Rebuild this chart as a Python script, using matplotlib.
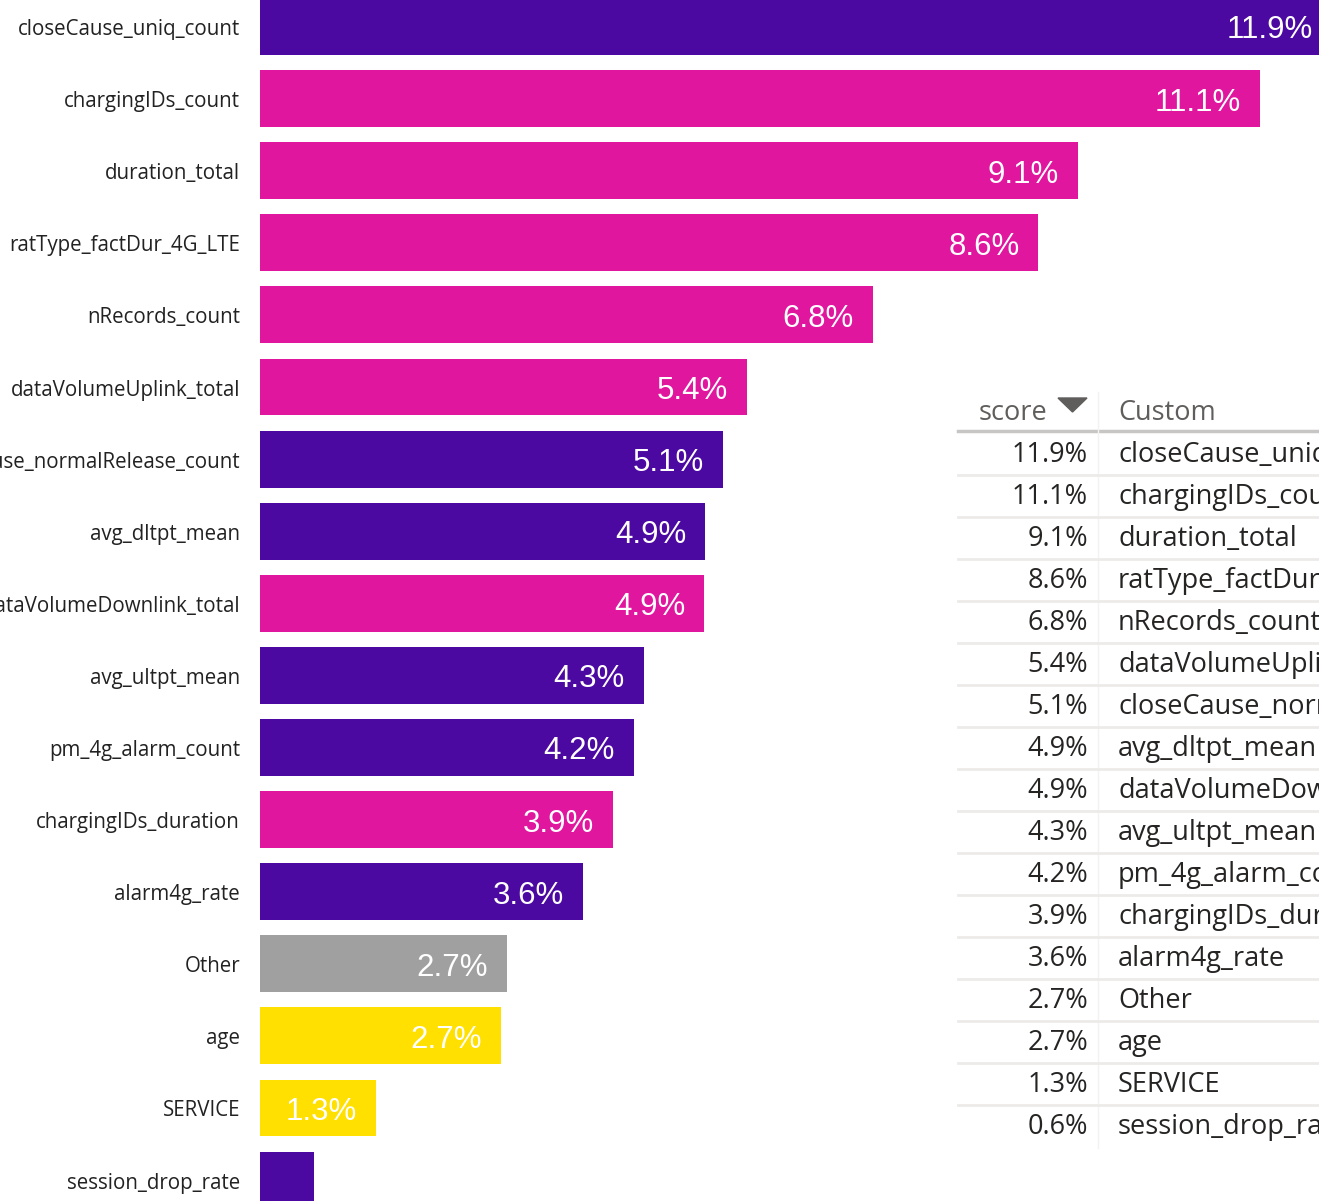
import matplotlib
matplotlib.use("Agg")
import matplotlib.pyplot as plt
from matplotlib.patches import Polygon

# data
features = ['closeCause_uniq_count', 'chargingIDs_count', 'duration_total',
            'ratType_factDur_4G_LTE', 'nRecords_count', 'dataVolumeUplink_total',
            'closeCause_normalRelease_count', 'avg_dltpt_mean',
            'dataVolumeDownlink_total', 'avg_ultpt_mean', 'pm_4g_alarm_count',
            'chargingIDs_duration', 'alarm4g_rate', 'Other', 'age', 'SERVICE',
            'session_drop_rate']
scores = [11.9, 11.1, 9.08, 8.64, 6.8, 5.4, 5.14, 4.94, 4.93, 4.26, 4.15,
          3.92, 3.58, 2.74, 2.67, 1.29, 0.6]
groups = ['p', 'm', 'm', 'm', 'm', 'm', 'p', 'p', 'm', 'p', 'p', 'm', 'p',
          'o', 'y', 'y', 'p']

palette = {'p': '#4B09A2', 'm': '#E0169F', 'o': '#A0A0A0', 'y': '#FFE000'}
colors = [palette[g] for g in groups]

W, H = 1319, 1201
fig = plt.figure(figsize=(W / 100, H / 100), dpi=100)

# bar axes: starts at x=260px, runs past the right edge (visual is cropped)
px_per_pct = 90.1
ax = fig.add_axes([260 / W, 0, 1 - 260 / W, 1])
ax.set_xlim(0, (W - 260) / px_per_pct)
row = 72.1
ax.set_ylim((H - 26.5) / row, -26.5 / row)
ypos = list(range(len(features)))
ax.barh(ypos, scores, height=0.79, color=colors)
ax.axis('off')

for y, v, name in zip(ypos, scores, features):
    if v > 1:
        ax.text(v - 19 / px_per_pct, y + 4 / row, f"{v:.1f}%", ha='right',
                va='center', color='white', fontsize=22.5, family='Liberation Sans')
    fig.text(240 / W, 1 - (29.5 + y * row) / H, name, ha='right', va='center',
             fontsize=14.8, family='Open Sans', color='#222222')

# table on the right
tab_left = 958
num_right = 1088
name_left = 1118
hdr_y = 413
tfs = 19.5
fig.patches.append(plt.Rectangle((tab_left / W, 0), 1, 1 - 392 / H,
                                 transform=fig.transFigure, color='white', zorder=3))
fig.text(1047 / W, 1 - hdr_y / H, 'score', ha='right', va='center',
         fontsize=tfs, family='Open Sans', color='#605E5C', zorder=4)
tri = Polygon([[1058 / W, 1 - 398 / H], [1087 / W, 1 - 398 / H],
               [1072.5 / W, 1 - 412 / H]], closed=True, transform=fig.transFigure,
              color='#605E5C', zorder=4)
fig.patches.append(tri)
fig.text(name_left / W, 1 - hdr_y / H, 'Custom', ha='left', va='center',
         fontsize=tfs, family='Open Sans', color='#605E5C', zorder=4)
fig.add_artist(plt.Line2D([tab_left / W, 1], [1 - 431 / H] * 2,
                          transform=fig.transFigure, color='#C8C6C4', lw=2.5, zorder=4))
fig.add_artist(plt.Line2D([1098 / W] * 2, [1 - 392 / H, 1 - 1148 / H],
                          transform=fig.transFigure, color='#F3F2F1', lw=1, zorder=4))
trow = 42
for i, (v, name) in enumerate(zip(scores, features)):
    yc = 455 + i * trow
    fig.text(num_right / W, 1 - yc / H, f"{v:.1f}%", ha='right', va='center',
             fontsize=tfs, family='Open Sans', color='#252423', zorder=4)
    fig.text(name_left / W, 1 - yc / H, name, ha='left', va='center',
             fontsize=tfs, family='Open Sans', color='#252423', zorder=4)
    if i < len(features) - 1:
        fig.add_artist(plt.Line2D([tab_left / W, 1], [1 - (yc + 20) / H] * 2,
                                  transform=fig.transFigure, color='#EDEBE9',
                                  lw=2, zorder=4))

fig.savefig('out.png', dpi=100)
